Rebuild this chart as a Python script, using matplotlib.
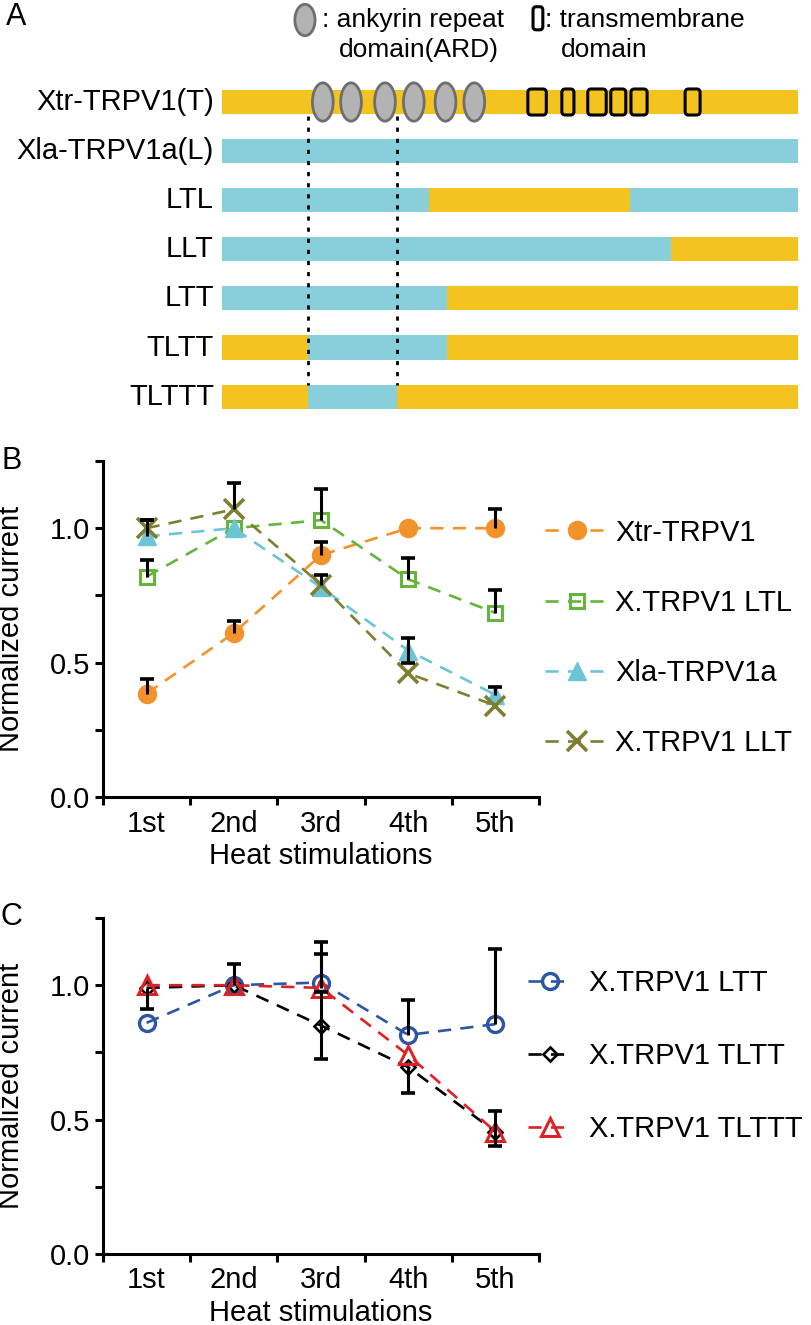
import numpy as np
import matplotlib
matplotlib.use("Agg")
import matplotlib.pyplot as plt
from matplotlib.patches import Ellipse, FancyBboxPatch, Rectangle

plt.rcParams['font.family'] = ['Liberation Sans', 'DejaVu Sans']

# ---------------- data ----------------
# panel A: constructs, segments in % of protein length (T = X. tropicalis, L = X. laevis)
constructs = ["Xtr-TRPV1(T)", "Xla-TRPV1a(L)", "LTL", "LLT", "LTT", "TLTT", "TLTTT"]
segments = [
    [(0, 100, "T")],
    [(0, 100, "L")],
    [(0, 35.9, "L"), (35.9, 70.9, "T"), (70.9, 100, "L")],
    [(0, 77.9, "L"), (77.9, 100, "T")],
    [(0, 39.0, "L"), (39.0, 100, "T")],
    [(0, 15.0, "T"), (15.0, 39.0, "L"), (39.0, 100, "T")],
    [(0, 15.0, "T"), (15.0, 30.4, "L"), (30.4, 100, "T")],
]
ard_centers = [17.5, 22.4, 28.3, 33.3, 38.8, 43.8]
tm_start = [53.1, 59.0, 63.5, 67.5, 71.0, 80.4]
tm_end = [56.3, 61.1, 66.7, 70.1, 73.8, 83.0]
ard_bounds = [15.0, 30.4]

# panel B / C
stim = ["1st", "2nd", "3rd", "4th", "5th"]

xtr = [0.385, 0.61, 0.90, 1.00, 1.00]
xtr_err = [0.055, 0.043, 0.05, 0.0, 0.07]
ltl = [0.82, 1.00, 1.03, 0.81, 0.685]
ltl_err = [0.06, 0.0, 0.115, 0.08, 0.085]
xla = [0.97, 1.00, 0.78, 0.545, 0.38]
xla_lo = [0.0, 0.0, 0.0, 0.045, 0.0]
xla_err = [0.06, 0.0, 0.0, 0.045, 0.03]
llt = [1.00, 1.07, 0.79, 0.46, 0.34]
llt_err = [0.03, 0.10, 0.035, 0.0, 0.0]

ltt = [0.86, 1.00, 1.01, 0.815, 0.855]
ltt_err = [0.0, 0.0, 0.15, 0.13, 0.28]
tltt = [0.99, 1.00, 0.85, 0.695, 0.455]
tltt_lo = [0.08, 0.0, 0.125, 0.097, 0.055]
tltt_hi = [0.0, 0.08, 0.125, 0.0, 0.077]
tlttt = [1.00, 1.00, 0.99, 0.74, 0.455]
tlttt_err = [0.0, 0.0, 0.125, 0.0, 0.0]

YEL = "#F3C41F"
CYN = "#89CFDB"
FS = 21

W, H = 812, 1325
fig = plt.figure(figsize=(W / 100, H / 100), dpi=100)

# ---------------- panel A ----------------
row0, rowstep = 102, 49.1
axa = fig.add_axes([222 / W, 1 - 420 / H, 576 / W, 420 / H])
axa.set_xlim(0, 100)
axa.set_ylim((420 - row0) / rowstep, -row0 / rowstep)
axa.axis("off")
bar_h = 0.49
for i, segs in enumerate(segments):
    for s, e, kind in segs:
        axa.add_patch(Rectangle((s, i - bar_h / 2), e - s, bar_h,
                                fc=YEL if kind == "T" else CYN, ec="none", zorder=1))
    axa.text(-1.4, i, constructs[i], ha="right", va="center", fontsize=FS)

for xb in ard_bounds:
    axa.plot([xb, xb], [bar_h / 2 + 0.05, len(segments) - 1 - bar_h / 2],
             color="black", lw=2, ls=(0, (1.5, 2.5)), zorder=2)

for c in ard_centers:
    axa.add_patch(Ellipse((c, 0), 3.6, 0.78, fc="#B3B3B3", ec="#6E6E6E", lw=2, zorder=3))
for s, e in zip(tm_start, tm_end):
    axa.add_patch(FancyBboxPatch((s, -0.265), e - s, 0.53,
                                 boxstyle="round,pad=0,rounding_size=0.6",
                                 fc="none", ec="black", lw=2.2, zorder=3,
                                 mutation_aspect=0.12))

# domain key
KFS = 19
axa.add_patch(Ellipse((14.4, -1.67), 3.5, 0.64, fc="#B3B3B3", ec="#6E6E6E", lw=2,
                      clip_on=False))
axa.text(17.4, -1.67, ": ankyrin repeat", ha="left", va="center", fontsize=KFS)
axa.text(20.3, -1.06, "domain(ARD)", ha="left", va="center", fontsize=KFS)
axa.add_patch(FancyBboxPatch((54.0, -1.94), 1.7, 0.47,
                             boxstyle="round,pad=0,rounding_size=0.5",
                             fc="none", ec="black", lw=2.2, clip_on=False,
                             mutation_aspect=0.12))
axa.text(56.1, -1.67, ": transmembrane", ha="left", va="center", fontsize=KFS)
axa.text(58.8, -1.06, "domain", ha="left", va="center", fontsize=KFS)


# ---------------- panels B, C ----------------
def style_axis(ax):
    ax.set_xlim(-0.5, 4.5)
    ax.set_ylim(0, 1.25)
    for sp in ["top", "right"]:
        ax.spines[sp].set_visible(False)
    for sp in ["left", "bottom"]:
        ax.spines[sp].set_linewidth(2.2)
    ax.set_yticks([0, 0.5, 1.0])
    ax.set_yticklabels(["0.0", "0.5", "1.0"])
    ax.set_yticks([0.25, 0.75, 1.25], minor=True)
    ax.set_xticks(range(5))
    ax.set_xticklabels(stim)
    ax.set_xticks(np.arange(-0.5, 5, 1), minor=True)
    ax.tick_params(axis="y", which="both", direction="out", length=6, width=2.2,
                   labelsize=FS, pad=3)
    ax.tick_params(axis="x", which="major", length=0, labelsize=FS, pad=9)
    ax.tick_params(axis="x", which="minor", direction="out", length=6, width=2.2)
    ax.set_xlabel("Heat stimulations", fontsize=FS, labelpad=3)
    ax.set_ylabel("Normalized current", fontsize=FS)
    ax.yaxis.set_label_coords(-0.178, 0.5)


def series(ax, y, lo, hi, color, marker, label, ms, mfc, mew):
    x = np.arange(len(y))
    y = np.asarray(y)
    lo = np.asarray(lo)
    hi = np.asarray(hi)
    # error bars (black, drawn over the markers), caps only on the drawn ends
    m = (lo + hi) > 0
    ax.vlines(x[m], (y - lo)[m], (y + hi)[m], color="black", lw=2.2, zorder=5)
    ax.plot(x[hi > 0], (y + hi)[hi > 0], ls="none", marker="_", ms=10, mew=2.6,
            color="black", zorder=5)
    ax.plot(x[lo > 0], (y - lo)[lo > 0], ls="none", marker="_", ms=10, mew=2.6,
            color="black", zorder=5)
    ln, = ax.plot(x, y, ls=(0, (5, 3.5)), lw=1.9, color=color, marker=marker,
                  ms=ms, mfc=mfc, mec=color, mew=mew, label=label, zorder=3)
    return ln


zeros = [0.0] * 5

axb = fig.add_axes([103 / W, 1 - 797 / H, 436 / W, 336 / H])
style_axis(axb)
hb = [
    series(axb, xtr, zeros, xtr_err, "#F2922B", "o", "Xtr-TRPV1", 13, "#F2922B", 1),
    series(axb, ltl, zeros, ltl_err, "#64B53A", "s", "X.TRPV1 LTL", 10, "none", 2.2),
    series(axb, xla, xla_lo, xla_err, "#6CC5D6", "^", "Xla-TRPV1a", 12.5, "#6CC5D6", 1),
    series(axb, llt, zeros, llt_err, "#7E7F32", "x", "X.TRPV1 LLT", 14, "#7E7F32", 2.6),
]
axb.legend(handles=hb, loc="center left", bbox_to_anchor=(545 / W, 1 - 638 / H),
           bbox_transform=fig.transFigure, frameon=False, fontsize=FS,
           handlelength=2.2, handletextpad=0.2, labelspacing=1.45,
           borderpad=0, borderaxespad=0)

axc = fig.add_axes([103 / W, 1 - 1254 / H, 436 / W, 336 / H])
style_axis(axc)
hc = [
    series(axc, ltt, zeros, ltt_err, "#2E55A3", "o", "X.TRPV1 LTT", 11.5, "none", 2.4),
    series(axc, tltt, tltt_lo, tltt_hi, "black", "D", "X.TRPV1 TLTT", 7.5, "none", 1.9),
    series(axc, tlttt, zeros, tlttt_err, "#DE2127", "^", "X.TRPV1 TLTTT", 12.5, "none", 2.2),
]
axc.legend(handles=hc, loc="center left", bbox_to_anchor=(528 / W, 1 - 1056 / H),
           bbox_transform=fig.transFigure, frameon=False, fontsize=FS,
           handlelength=1.5, handletextpad=0.6, labelspacing=1.55,
           borderpad=0, borderaxespad=0)

fig.text(6 / W, 1 - 17 / H, "A", fontsize=FS + 1, va="center", ha="left")
fig.text(1 / W, 1 - 461 / H, "B", fontsize=FS + 1, va="center", ha="left")
fig.text(1 / W, 1 - 917 / H, "C", fontsize=FS + 1, va="center", ha="left")

fig.savefig("out.png", dpi=100)
